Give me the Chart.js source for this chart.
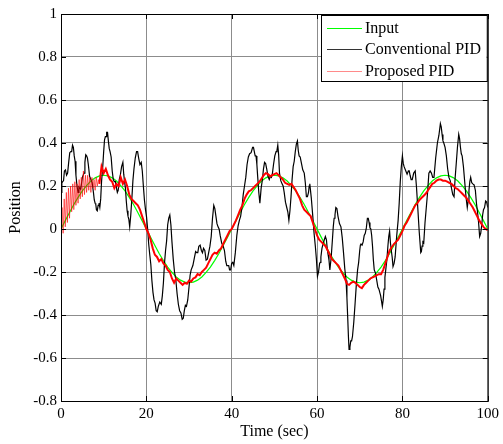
<!DOCTYPE html>
<html>
<head>
<meta charset="utf-8">
<title>Position tracking</title>
<script src="https://cdn.jsdelivr.net/npm/chart.js@4.4.1/dist/chart.umd.min.js"></script>
<style>
  html, body { margin: 0; padding: 0; background: #fff; }
  #chart { display: block; }
</style>
</head>
<body>
<canvas id="chart" width="503" height="444"></canvas>
<script>
// Reference input, one sample per second (t = 0..100)
const inputValues = [
  0, 0.039, 0.077, 0.114, 0.147, 0.177, 0.202, 0.223, 0.238, 0.247,
  0.25, 0.247, 0.238, 0.223, 0.202, 0.177, 0.147, 0.114, 0.077, 0.039,
  0, -0.039, -0.077, -0.114, -0.147, -0.177, -0.202, -0.223, -0.238, -0.247,
  -0.25, -0.247, -0.238, -0.223, -0.202, -0.177, -0.147, -0.114, -0.077, -0.039,
  0, 0.039, 0.077, 0.114, 0.147, 0.177, 0.202, 0.223, 0.238, 0.247,
  0.25, 0.247, 0.238, 0.223, 0.202, 0.177, 0.147, 0.114, 0.077, 0.039,
  0, -0.039, -0.077, -0.114, -0.147, -0.177, -0.202, -0.223, -0.238, -0.247,
  -0.25, -0.247, -0.238, -0.223, -0.202, -0.177, -0.147, -0.114, -0.077, -0.039,
  0, 0.039, 0.077, 0.114, 0.147, 0.177, 0.202, 0.223, 0.238, 0.247,
  0.25, 0.247, 0.238, 0.223, 0.202, 0.177, 0.147, 0.114, 0.077, 0.039,
  0
];

// Conventional PID response
const conventionalTime = [
  0, 0.2, 0.4, 0.6, 0.8, 1.05, 1.3, 1.55, 1.8, 2.05,
  2.3, 2.5, 2.7, 2.9, 3.1, 3.3, 3.5, 3.75, 4.0, 4.2,
  4.4, 4.6, 4.8, 5.0, 5.2, 5.4, 5.6, 5.8, 6.0, 6.2,
  6.4, 6.7, 7.0, 7.3, 7.6, 7.8, 8.0, 8.15, 8.3, 8.5,
  8.7, 8.9, 9.1, 9.3, 9.5, 9.75, 10.0, 10.2, 10.4, 10.55,
  10.7, 10.9, 11.1, 11.3, 11.5, 11.75, 12.0, 12.25, 12.5, 12.75,
  13.0, 13.2, 13.4, 13.65, 13.9, 14.2, 14.5, 14.7, 14.9, 15.1,
  15.3, 15.5, 15.7, 15.9, 16.1, 16.35, 16.6, 16.85, 17.1, 17.4,
  17.7, 17.95, 18.2, 18.5, 18.8, 19.05, 19.3, 19.55, 19.8, 20.05,
  20.3, 20.55, 20.8, 21.05, 21.3, 21.55, 21.8, 22.05, 22.3, 22.55,
  22.8, 23.15, 23.5, 23.75, 24.0, 24.25, 24.5, 24.75, 25.0, 25.25,
  25.5, 25.75, 26.0, 26.3, 26.6, 26.9, 27.2, 27.5, 27.8, 28.1,
  28.4, 28.65, 28.9, 29.15, 29.4, 29.7, 30.0, 30.25, 30.5, 30.9,
  31.3, 31.55, 31.8, 32.05, 32.3, 32.6, 32.9, 33.15, 33.4, 33.7,
  34.0, 34.3, 34.6, 34.9, 35.2, 35.5, 35.8, 36.05, 36.3, 36.55,
  36.8, 37.05, 37.3, 37.65, 38.0, 38.3, 38.6, 38.85, 39.1, 39.3,
  39.5, 39.75, 40.0, 40.25, 40.5, 40.85, 41.2, 41.5, 41.8, 42.1,
  42.4, 42.7, 43.0, 43.3, 43.6, 43.9, 44.2, 44.55, 44.9, 45.1,
  45.3, 45.5, 45.7, 45.9, 46.1, 46.35, 46.6, 46.9, 47.2, 47.45,
  47.7, 47.95, 48.2, 48.5, 48.8, 49.05, 49.3, 49.55, 49.8, 50.1,
  50.4, 50.6, 50.8, 51.0, 51.2, 51.5, 51.8, 52.05, 52.3, 52.6,
  52.9, 53.15, 53.4, 53.65, 53.9, 54.15, 54.4, 54.65, 54.9, 55.15,
  55.4, 55.6, 55.8, 56.05, 56.3, 56.65, 57.0, 57.25, 57.5, 57.75,
  58.0, 58.15, 58.3, 58.65, 59.0, 59.3, 59.6, 59.85, 60.1, 60.35,
  60.6, 60.75, 60.9, 61.15, 61.4, 61.55, 61.7, 61.95, 62.2, 62.4,
  62.6, 62.8, 63.0, 63.3, 63.6, 63.8, 64.0, 64.2, 64.4, 64.65,
  64.9, 65.25, 65.6, 65.9, 66.2, 66.5, 66.8, 67.0, 67.2, 67.35,
  67.5, 67.7, 67.9, 68.1, 68.3, 68.6, 68.9, 69.2, 69.5, 69.75,
  70.0, 70.15, 70.3, 70.55, 70.8, 71.05, 71.3, 71.55, 71.8, 72.0,
  72.2, 72.4, 72.6, 72.8, 73.0, 73.2, 73.4, 73.7, 74.0, 74.25,
  74.5, 74.9, 75.3, 75.5, 75.7, 75.9, 76.1, 76.35, 76.6, 76.8,
  77.0, 77.2, 77.4, 77.6, 77.8, 78.05, 78.3, 78.65, 79.0, 79.25,
  79.5, 79.75, 80.0, 80.2, 80.4, 80.6, 80.8, 81.1, 81.4, 81.6,
  81.8, 82.05, 82.3, 82.65, 83.0, 83.3, 83.6, 83.95, 84.3, 84.45,
  84.6, 84.8, 85.0, 85.3, 85.6, 85.9, 86.2, 86.5, 86.8, 87.1,
  87.4, 87.8, 88.2, 88.55, 88.9, 89.1, 89.3, 89.5, 89.7, 90.0,
  90.3, 90.6, 90.9, 91.2, 91.5, 91.8, 92.1, 92.35, 92.6, 92.9,
  93.2, 93.4, 93.6, 93.8, 94.0, 94.3, 94.6, 94.9, 95.2, 95.4,
  95.6, 95.8, 96.0, 96.25, 96.5, 96.8, 97.1, 97.35, 97.6, 97.85,
  98.1, 98.35, 98.6, 98.8, 99.0, 99.25, 99.5, 99.75, 100
];
const conventionalValues = [
  0.17, 0.215, 0.22, 0.225, 0.27, 0.275, 0.25, 0.26, 0.31, 0.355,
  0.36, 0.36, 0.39, 0.38, 0.34, 0.315, 0.25, 0.20, 0.17, 0.195,
  0.19, 0.185, 0.21, 0.24, 0.25, 0.26, 0.31, 0.345, 0.34, 0.33,
  0.30, 0.245, 0.23, 0.215, 0.17, 0.135, 0.12, 0.115, 0.09, 0.085,
  0.11, 0.12, 0.10, 0.14, 0.22, 0.28, 0.36, 0.415, 0.43, 0.43,
  0.45, 0.45, 0.41, 0.375, 0.36, 0.335, 0.27, 0.23, 0.22, 0.22,
  0.19, 0.17, 0.18, 0.23, 0.25, 0.29, 0.31, 0.255, 0.22, 0.19,
  0.13, 0.085, 0.06, 0.045, 0.01, 0.065, 0.14, 0.225, 0.28, 0.33,
  0.36, 0.36, 0.33, 0.30, 0.31, 0.27, 0.20, 0.135, 0.09, 0.055,
  0.00, -0.07, -0.12, -0.165, -0.24, -0.295, -0.33, -0.345, -0.38, -0.385,
  -0.36, -0.34, -0.35, -0.31, -0.25, -0.16, -0.10, -0.055, 0.02, 0.05,
  0.065, 0.02, -0.06, -0.14, -0.20, -0.235, -0.30, -0.35, -0.38, -0.39,
  -0.42, -0.415, -0.38, -0.355, -0.36, -0.33, -0.27, -0.215, -0.19, -0.17,
  -0.13, -0.105, -0.11, -0.11, -0.08, -0.075, -0.10, -0.11, -0.09, -0.10,
  -0.145, -0.14, -0.11, -0.08, -0.035, 0.05, 0.11, 0.095, 0.06, 0.025,
  0.01, 0.00, -0.03, -0.065, -0.08, -0.10, -0.15, -0.17, -0.17, -0.17,
  -0.19, -0.19, -0.16, -0.155, -0.17, -0.11, -0.03, 0.015, 0.04, 0.06,
  0.10, 0.16, 0.20, 0.24, 0.30, 0.335, 0.35, 0.355, 0.38, 0.38,
  0.36, 0.34, 0.34, 0.30, 0.24, 0.17, 0.12, 0.19, 0.23, 0.28,
  0.31, 0.305, 0.28, 0.245, 0.23, 0.245, 0.24, 0.26, 0.30, 0.34,
  0.36, 0.365, 0.39, 0.345, 0.26, 0.225, 0.21, 0.20, 0.17, 0.125,
  0.10, 0.08, 0.04, 0.085, 0.15, 0.23, 0.29, 0.315, 0.36, 0.395,
  0.41, 0.365, 0.34, 0.335, 0.31, 0.275, 0.26, 0.215, 0.15, 0.15,
  0.17, 0.20, 0.21, 0.145, 0.06, -0.02, -0.08, -0.14, -0.22, -0.20,
  -0.16, -0.155, -0.13, -0.09, -0.07, -0.07, -0.05, -0.035, -0.05, -0.095,
  -0.12, -0.145, -0.19, -0.135, -0.05, 0.01, 0.05, 0.065, 0.10, 0.095,
  0.06, 0.025, 0.01, -0.04, -0.11, -0.185, -0.24, -0.32, -0.42, -0.50,
  -0.56, -0.55, -0.52, -0.52, -0.50, -0.435, -0.35, -0.26, -0.19, -0.155,
  -0.10, -0.075, -0.07, -0.075, -0.06, -0.03, -0.02, 0.005, 0.05, 0.05,
  0.03, 0.005, 0.00, -0.03, -0.08, -0.145, -0.19, -0.205, -0.24, -0.27,
  -0.28, -0.31, -0.36, -0.33, -0.28, -0.225, -0.19, -0.145, -0.08, -0.035,
  -0.01, -0.065, -0.10, -0.13, -0.175, -0.16, -0.13, -0.035, 0.04, 0.12,
  0.22, 0.29, 0.34, 0.305, 0.29, 0.29, 0.27, 0.255, 0.27, 0.27,
  0.25, 0.23, 0.23, 0.26, 0.27, 0.195, 0.10, -0.015, -0.11, -0.105,
  -0.08, -0.06, -0.065, 0.03, 0.10, 0.17, 0.26, 0.27, 0.26, 0.24,
  0.24, 0.33, 0.40, 0.435, 0.49, 0.475, 0.44, 0.41, 0.40, 0.38,
  0.34, 0.28, 0.24, 0.225, 0.19, 0.16, 0.15, 0.235, 0.30, 0.38,
  0.44, 0.42, 0.38, 0.35, 0.34, 0.29, 0.22, 0.15, 0.10, 0.13,
  0.18, 0.22, 0.24, 0.215, 0.21, 0.205, 0.18, 0.12, 0.08, 0.03,
  -0.035, -0.02, 0.02, 0.065, 0.09, 0.10, 0.13, 0.125, 0.10
];

// Proposed PID response
const proposedTime = [
  0, 0.25, 0.5, 0.75, 1, 1.25, 1.5, 1.75, 2, 2.25,
  2.5, 2.75, 3, 3.25, 3.5, 3.75, 4, 4.25, 4.5, 4.75,
  5, 5.25, 5.5, 5.75, 6, 6.25, 6.5, 6.75, 7, 7.25,
  7.5, 7.75, 8, 8.25, 8.5, 8.75, 9, 9.5,
  10, 10.5, 11, 11.5, 12, 12.5, 13, 13.5,
  14, 14.5, 15, 15.5, 16, 16.5, 17, 17.5, 18, 18.5,
  19, 19.5, 20, 20.5, 21, 21.5, 22, 22.5, 23, 23.5,
  24, 24.5, 25, 25.5, 26, 26.5, 27, 27.5, 28, 28.5,
  29, 29.5, 30, 30.5, 31, 31.5, 32, 32.5, 33, 33.5,
  34, 34.5, 35, 35.5, 36, 36.5, 37, 37.5, 38, 38.5,
  39, 39.5, 40, 40.5, 41, 41.5, 42, 42.5, 43, 43.5,
  44, 44.5, 45, 45.5, 46, 46.5, 47, 47.5, 48, 48.5,
  49, 49.5, 50, 50.5, 51, 51.5, 52, 52.5, 53, 53.5,
  54, 54.5, 55, 55.5, 56, 56.5, 57, 57.5, 58, 58.5,
  59, 59.5, 60, 60.5, 61, 61.5, 62, 62.5, 63, 63.5,
  64, 64.5, 65, 65.5, 66, 66.5, 67, 67.5, 68, 68.5,
  69, 69.5, 70, 70.5, 71, 71.5, 72, 72.5, 73, 73.5,
  74, 74.5, 75, 75.5, 76, 76.5, 77, 77.5, 78, 78.5,
  79, 79.5, 80, 80.5, 81, 81.5, 82, 82.5, 83, 83.5,
  84, 84.5, 85, 85.5, 86, 86.5, 87, 87.5, 88, 88.5,
  89, 89.5, 90, 90.5, 91, 91.5, 92, 92.5, 93, 93.5,
  94, 94.5, 95, 95.5, 96, 96.5, 97, 97.5, 98, 98.5,
  99, 99.5, 100
];
const proposedValues = [
  0.00, 0.10, -0.02, 0.14, 0.01, 0.17, 0.03, 0.19, 0.05, 0.20,
  0.08, 0.21, 0.09, 0.22, 0.11, 0.21, 0.12, 0.23, 0.14, 0.24,
  0.15, 0.27, 0.16, 0.25, 0.17, 0.25, 0.18, 0.24, 0.17, 0.24,
  0.19, 0.23, 0.18, 0.24, 0.20, 0.23, 0.21, 0.29,
  0.26, 0.28, 0.25, 0.23, 0.22, 0.19, 0.21, 0.20,
  0.24, 0.21, 0.23, 0.20, 0.16, 0.14, 0.13, 0.12, 0.11, 0.09,
  0.06, 0.03, 0.00, -0.02, -0.05, -0.09, -0.12, -0.13, -0.15, -0.14,
  -0.16, -0.17, -0.19, -0.20, -0.23, -0.25, -0.23, -0.24, -0.25, -0.26,
  -0.25, -0.255, -0.24, -0.245, -0.23, -0.225, -0.21, -0.215, -0.20, -0.19,
  -0.18, -0.16, -0.14, -0.12, -0.11, -0.115, -0.10, -0.09, -0.07, -0.05,
  -0.03, -0.01, 0.00, 0.02, 0.04, 0.065, 0.09, 0.11, 0.14, 0.16,
  0.175, 0.18, 0.19, 0.20, 0.21, 0.22, 0.235, 0.25, 0.26, 0.255,
  0.245, 0.25, 0.255, 0.26, 0.25, 0.24, 0.23, 0.215, 0.21, 0.205,
  0.21, 0.195, 0.18, 0.16, 0.14, 0.11, 0.09, 0.08, 0.07, 0.06,
  0.03, 0.00, -0.03, -0.05, -0.06, -0.07, -0.08, -0.10, -0.12, -0.14,
  -0.15, -0.16, -0.17, -0.19, -0.21, -0.23, -0.255, -0.26, -0.25, -0.245,
  -0.25, -0.26, -0.27, -0.275, -0.26, -0.25, -0.24, -0.23, -0.225, -0.22,
  -0.215, -0.21, -0.21, -0.19, -0.16, -0.13, -0.10, -0.085, -0.07, -0.06,
  -0.05, -0.03, -0.01, 0.015, 0.03, 0.05, 0.07, 0.09, 0.11, 0.12,
  0.135, 0.145, 0.155, 0.165, 0.18, 0.195, 0.21, 0.215, 0.225, 0.23,
  0.23, 0.225, 0.225, 0.22, 0.215, 0.21, 0.20, 0.19, 0.185, 0.175,
  0.165, 0.155, 0.145, 0.13, 0.115, 0.10, 0.08, 0.06, 0.04, 0.025,
  0.01, 0.00, -0.005
];

const xTicks = [0, 20, 40, 60, 80, 100];
const yTicks = [-0.8, -0.6, -0.4, -0.2, 0, 0.2, 0.4, 0.6, 0.8, 1];
const seriesNames = ['Input', 'Conventional PID', 'Proposed PID'];
const seriesColors = ['#00ff00', '#000000', '#ff0000'];
const legendColors = ['#00ff00', '#333333', '#ff8a8a'];

const FONT = '"Liberation Serif", "Times New Roman", serif';

const toPoints = (ts, vs) => vs.map((v, i) => ({ x: ts[i], y: v }));
const inputTime = inputValues.map((_, i) => i);

// the start-up transient of the proposed controller is drawn thin and pale
const startupEnd = 9;

// box around the axes, inward tick marks on all four sides, and the legend
const axesBox = {
  id: 'axesBox',
  afterDatasetsDraw(chart) {
    const { ctx, chartArea: a, scales: { x, y } } = chart;
    ctx.save();
    ctx.strokeStyle = '#000';
    ctx.lineWidth = 1;
    ctx.strokeRect(a.left + 0.5, a.top + 0.5, a.right - a.left, a.bottom - a.top);
    ctx.beginPath();
    xTicks.forEach(t => {
      const px = Math.round(x.getPixelForValue(t)) + 0.5;
      ctx.moveTo(px, a.bottom); ctx.lineTo(px, a.bottom - 5);
      ctx.moveTo(px, a.top); ctx.lineTo(px, a.top + 5);
    });
    yTicks.forEach(t => {
      const py = Math.round(y.getPixelForValue(t)) + 0.5;
      ctx.moveTo(a.left, py); ctx.lineTo(a.left + 5, py);
      ctx.moveTo(a.right, py); ctx.lineTo(a.right - 5, py);
    });
    ctx.stroke();

    // legend
    const bx = 321, by = a.top + 1, bw = a.right - 1 - bx, bh = 66;
    ctx.fillStyle = '#fff';
    ctx.fillRect(bx, by, bw, bh);
    ctx.strokeStyle = '#000';
    ctx.strokeRect(bx + 0.5, by + 0.5, bw, bh);
    ctx.font = '16px ' + FONT;
    ctx.textBaseline = 'middle';
    ctx.textAlign = 'left';
    seriesNames.forEach((name, i) => {
      const ly = by + 12.5 + i * 21.5;
      ctx.beginPath();
      ctx.strokeStyle = legendColors[i];
      ctx.lineWidth = 1;
      ctx.moveTo(bx + 6, Math.round(ly) + 0.5);
      ctx.lineTo(bx + 41, Math.round(ly) + 0.5);
      ctx.stroke();
      ctx.fillStyle = '#000';
      ctx.fillText(name, bx + 44, ly + 1);
    });
    ctx.restore();
  }
};

new Chart(document.getElementById('chart'), {
  type: 'line',
  data: {
    datasets: [
      {
        label: seriesNames[2],
        data: toPoints(proposedTime, proposedValues),
        borderColor: seriesColors[2],
        borderWidth: 2,
        segment: {
          borderColor: c => (c.p1.parsed.x <= startupEnd ? 'rgba(255,0,0,0.6)' : undefined),
          borderWidth: c => (c.p1.parsed.x <= startupEnd ? 1 : undefined)
        },
        order: 1
      },
      {
        label: seriesNames[1],
        data: toPoints(conventionalTime, conventionalValues),
        borderColor: seriesColors[1],
        borderWidth: 1.2,
        order: 2
      },
      {
        label: seriesNames[0],
        data: toPoints(inputTime, inputValues),
        borderColor: seriesColors[0],
        borderWidth: 1.2,
        order: 3
      }
    ]
  },
  options: {
    responsive: false,
    animation: false,
    events: [],
    layout: { padding: { top: 14, right: 14, left: 0, bottom: 0 } },
    elements: {
      point: { radius: 0 },
      line: { tension: 0, fill: false }
    },
    plugins: {
      legend: { display: false },
      tooltip: { enabled: false }
    },
    scales: {
      x: {
        type: 'linear',
        min: 0,
        max: 100,
        afterFit(s) { s.height = 43; },
        afterBuildTicks(s) { s.ticks = xTicks.map(v => ({ value: v })); },
        grid: { color: '#8c8c8c', drawTicks: false },
        border: { display: false },
        ticks: {
          padding: 4,
          color: '#000',
          font: { family: FONT, size: 15 },
          maxRotation: 0
        },
        title: {
          display: true,
          text: 'Time (sec)',
          color: '#000',
          font: { family: FONT, size: 16 },
          padding: { top: 0, bottom: 3 }
        }
      },
      y: {
        type: 'linear',
        min: -0.8,
        max: 1,
        afterFit(s) { s.width = 61; },
        afterBuildTicks(s) { s.ticks = yTicks.map(v => ({ value: v })); },
        grid: { color: '#8c8c8c', drawTicks: false },
        border: { display: false },
        ticks: {
          padding: 4,
          color: '#000',
          font: { family: FONT, size: 15 },
          callback: v => (Math.abs(v) < 1e-9 ? '0' : String(+v.toFixed(1)))
        },
        title: {
          display: true,
          text: 'Position',
          color: '#000',
          font: { family: FONT, size: 16 },
          padding: { top: 6, bottom: 0 }
        }
      }
    }
  },
  plugins: [axesBox]
});
</script>
</body>
</html>
